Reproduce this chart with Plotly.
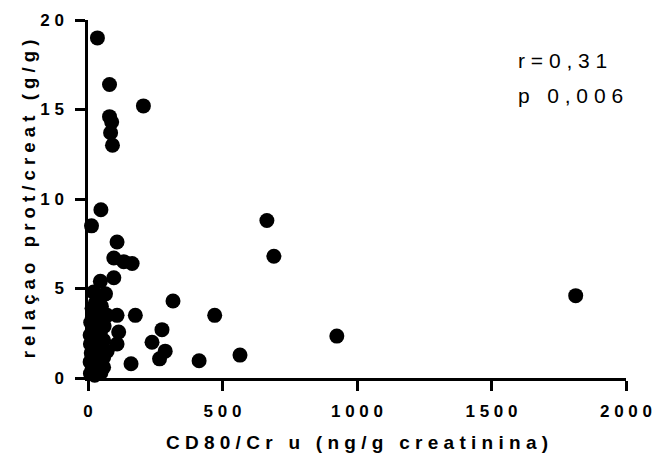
import plotly.graph_objects as go

# CD80/Cr u (ng/g creatinina)
cd80 = [35, 80, 80, 88, 84, 91, 206, 48, 13, 108, 96, 133, 164, 96,
        316, 176, 108, 114, 108, 275, 238, 287, 266, 160, 413, 565, 471,
        925, 665, 691, 1813,
        46, 21, 65, 35, 28, 50, 15, 40, 71, 21, 55, 10, 35, 60, 21, 45,
        8, 30, 58, 15, 9, 40, 25, 71, 12, 50, 16, 58, 30, 8, 45, 20,
        58, 16, 35, 9, 25, 48]
# relação prot/creat (g/g)
prot = [19.0, 16.4, 14.6, 14.3, 13.7, 13.0, 15.2, 9.4, 8.5, 7.6, 6.7, 6.5, 6.4, 5.6,
        4.3, 3.5, 3.5, 2.57, 1.9, 2.7, 2.0, 1.5, 1.07, 0.8, 0.96, 1.28, 3.5,
        2.34, 8.8, 6.8, 4.6,
        5.4, 4.8, 4.7, 4.5, 4.2, 4.0, 3.9, 3.7, 3.5, 3.4, 3.3, 3.1, 3.0, 2.9, 2.7, 2.5,
        2.4, 2.3, 2.1, 2.0, 1.9, 1.8, 1.6, 1.5, 1.4, 1.3, 1.2, 1.15, 1.0, 0.9, 0.8, 0.7,
        0.6, 0.5, 0.4, 0.25, 0.15, 0.3]

x_ticks = [0, 500, 1000, 1500, 2000]
y_ticks = [0, 5, 10, 15, 20]
x_title = "CD80/Cr u (ng/g creatinina)"
y_title = "relaçao prot/creat (g/g)"
stats = ["r=0,31", "p 0,006"]

SEP = "\u00a0"


def spaced(s):
    return SEP.join(list(s))


FONT = "Liberation Sans, Arial, sans-serif"

fig = go.Figure()
fig.add_trace(go.Scatter(
    x=cd80, y=prot, mode="markers",
    marker=dict(color="black", size=15, line=dict(width=0)),
    cliponaxis=False, showlegend=False, hoverinfo="skip",
))

axis_common = dict(
    showline=True, linecolor="black", linewidth=2.5,
    ticks="outside", ticklen=10, tickwidth=2.5, tickcolor="black",
    showgrid=False, zeroline=False,
    tickfont=dict(family=FONT, size=17, color="black", weight="bold"),
)

fig.update_xaxes(
    range=[0, 2000], tickvals=x_ticks, ticktext=[spaced(str(v)) for v in x_ticks],
    ticklabelstandoff=6,
    title=dict(text=spaced(x_title), font=dict(family=FONT, size=19, color="black", weight="bold"),
               standoff=16),
    **axis_common,
)
fig.update_yaxes(
    range=[0, 20], tickvals=y_ticks, ticktext=[spaced(str(v)) for v in y_ticks],
    ticklabelstandoff=8,
    title=dict(text=spaced(y_title), font=dict(family=FONT, size=18.5, color="black", weight="bold"),
               standoff=0),
    **axis_common,
)

ys = [0.8855, 0.79]
for txt, yy in zip(stats, ys):
    fig.add_annotation(
        text=spaced(txt), xref="paper", yref="paper", x=0.7955, y=yy,
        xanchor="left", yanchor="middle", showarrow=False,
        font=dict(family=FONT, size=21, color="black"),
    )

fig.update_layout(
    width=654, height=461,
    margin=dict(l=88, r=28, t=20, b=83, autoexpand=False),
    paper_bgcolor="white", plot_bgcolor="white",
)

# remove the default page margin so the 654x461 figure fills the window exactly
fig.write_html(
    "out.html",
    config={"displayModeBar": False},
    post_script="document.body.style.margin='0';document.body.style.overflow='hidden';",
)
